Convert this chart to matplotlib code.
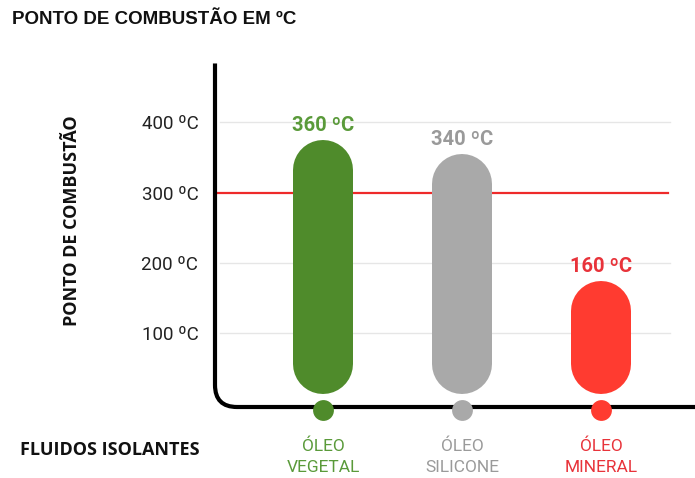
import matplotlib
matplotlib.use('Agg')
import matplotlib.pyplot as plt
from matplotlib.path import Path
from matplotlib.patches import PathPatch
import matplotlib.transforms as mtransforms

# Data
categories = ['ÓLEO\nVEGETAL', 'ÓLEO\nSILICONE', 'ÓLEO\nMINERAL']
values = [360, 340, 160]
bar_colors = ['#4f8b2b', '#a9a9a9', '#ff3b30']
text_colors = ['#5a9a3a', '#9a9a9a', '#e8333a']
yticks = [100, 200, 300, 400]
limit = 300

W, H = 695, 478
fig = plt.figure(figsize=(W / 100, H / 100), dpi=100)
ax = fig.add_axes([215 / W, (H - 407) / H, 480 / W, 347 / H])
ax.set_xlim(-0.777, 2.676)
ax.set_ylim(-4.3, 488)
for s in ax.spines.values():
    s.set_visible(False)
ax.set_xticks([])
ax.set_yticks(yticks)
ax.set_yticklabels([f'{t} ºC' for t in yticks], fontfamily='Roboto',
                   fontsize=13.5, color='#222222')
ax.tick_params(axis='y', length=0, pad=12)

# gridlines + limit line
for t in yticks:
    if t == limit:
        continue
    ax.axhline(t, xmin=0.01, xmax=0.948, color='#e6e6e6', lw=1, zorder=0)
ax.axhline(limit, xmin=0.0, xmax=0.944, color='#ee2a2a', lw=1.6, zorder=1)

# rounded axis line (vertical + corner + horizontal)
rx, ry = 22 / 480, 22 / 347
verts = [(0, 0.99), (0, ry), (0, 0), (rx, 0), (1.0, 0)]
codes = [Path.MOVETO, Path.LINETO, Path.CURVE3, Path.CURVE3, Path.LINETO]
ax.add_patch(PathPatch(Path(verts, codes), transform=ax.transAxes, fill=False,
                       lw=3, color='black', clip_on=False, zorder=3,
                       capstyle='butt'))

# pill bars drawn as thick round-capped lines
bar_px = 60
base = 14
px_per_unit = ax.get_window_extent().height / (ax.get_ylim()[1] - ax.get_ylim()[0])
cap = (bar_px / 2) / px_per_unit
lw_pt = bar_px * 72 / fig.dpi
tr = mtransforms.blended_transform_factory(ax.transData, ax.transAxes)
for i, (v, c, tc) in enumerate(zip(values, bar_colors, text_colors)):
    ax.plot([i, i], [base + cap, base + v - cap], color=c, lw=lw_pt,
            solid_capstyle='round', zorder=2)
    ax.annotate(f'{v} ºC', (i, base + v), xytext=(0, 4), textcoords='offset points',
                ha='center', va='bottom', fontfamily='Roboto', fontweight='bold',
                fontsize=14.5, color=tc)
    # dot on the axis
    ax.plot([i], [-0.009], 'o', ms=15, color=c, transform=tr, clip_on=False,
            zorder=4, mec='none')
    ax.text(i, -0.09, categories[i], transform=tr, ha='center', va='top',
            fontfamily='Roboto', fontsize=12.5, color=tc, linespacing=1.5)

fig.text(12 / W, 1 - 20 / H, 'PONTO DE COMBUSTÃO EM ºC', fontfamily='Liberation Sans',
         fontweight='bold', fontsize=13.5, color='#111111', va='center', ha='left')
fig.text(72 / W, 1 - 221 / H, 'PONTO DE COMBUSTÃO', fontfamily='Open Sans',
         fontweight='bold', fontsize=13, color='#111111', rotation=90,
         va='center', ha='center')
fig.text(20 / W, 1 - 450 / H, 'FLUIDOS ISOLANTES', fontfamily='Open Sans',
         fontweight='bold', fontsize=13, color='#111111', va='center', ha='left')

fig.savefig('out.png', dpi=100)
